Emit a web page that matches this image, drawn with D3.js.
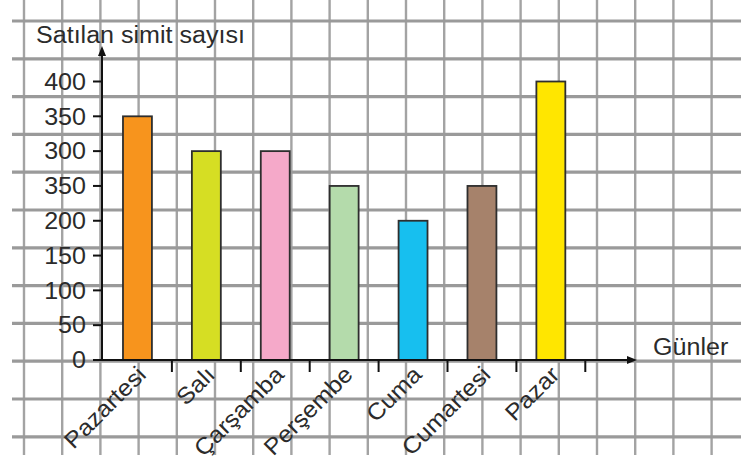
<!DOCTYPE html>
<html lang="tr">
<head>
<meta charset="utf-8">
<script src="https://cdn.jsdelivr.net/npm/d3@7/dist/d3.min.js"></script>
<style>
  html, body { margin: 0; padding: 0; background: #fff; }
  svg { display: block; }
  text { font-family: "Liberation Sans", Arial, Helvetica, sans-serif; fill: #2b2b2b; }
</style>
</head>
<body>
<svg id="chart" width="741" height="464"></svg>
<script>
// Günlere göre satılan simit sayısı
const days = ["Pazartesi", "Salı", "Çarşamba", "Perşembe", "Cuma", "Cumartesi", "Pazar"];
const sales = [350, 300, 300, 250, 200, 250, 400];
const barColors = ["#f7941d", "#d6de23", "#f5a9c9", "#b4dbab", "#17bfef", "#a6826b", "#ffe600"];
const yTickValues = [0, 50, 100, 150, 200, 250, 300, 350, 400];
const yTickLabels = ["0", "50", "100", "150", "200", "350", "300", "350", "400"];
const yTitle = "Satılan simit sayısı";
const xTitle = "Günler";

const W = 741, H = 464;
const svg = d3.select("#chart");

// squared paper background
const gridStepX = 38.2, gridStepY = 37.8;
const gx = d3.range(0, 19).map(i => 24 + i * gridStepX);
const gy = d3.range(0, 12).map(i => 21 + i * gridStepY);
const grid = svg.append("g");
grid.selectAll("line.v").data(gx).join("line")
  .attr("x1", d => d).attr("x2", d => d).attr("y1", 0).attr("y2", 455)
  .attr("stroke", "#a3a3a3").attr("stroke-width", 2.4);
grid.selectAll("line.h").data(gy).join("line")
  .attr("x1", 12).attr("x2", W).attr("y1", d => d).attr("y2", d => d)
  .attr("stroke", "#9a9a9a").attr("stroke-width", 3.2);

// scales
const x = d3.scaleBand().domain(days).range([103, 103 + 68.9 * 7])
  .paddingInner(0.58).paddingOuter(0.29);
const y = d3.scaleLinear().domain([0, 400]).range([360, 81.5]);
const axisX = 102;

// bars
svg.append("g").selectAll("rect").data(days).join("rect")
  .attr("x", d => x(d))
  .attr("width", x.bandwidth())
  .attr("y", (d, i) => y(sales[i]))
  .attr("height", (d, i) => y(0) - y(sales[i]))
  .attr("fill", (d, i) => barColors[i])
  .attr("stroke", "#2e2e2e").attr("stroke-width", 1.8);

const axes = svg.append("g").attr("stroke", "#111").attr("stroke-width", 2);

// y axis with arrow
axes.append("line").attr("x1", axisX).attr("x2", axisX).attr("y1", y(0)).attr("y2", 52);
svg.append("path").attr("d", `M${axisX},46 L${axisX - 4},56 L${axisX + 4},56 Z`).attr("fill", "#111");
axes.selectAll("line.yt").data(yTickValues).join("line")
  .attr("x1", axisX - 9).attr("x2", axisX).attr("y1", d => y(d)).attr("y2", d => y(d));

// x axis with arrow
const xEnd = 637;
axes.append("line").attr("x1", 95).attr("x2", xEnd - 6).attr("y1", y(0)).attr("y2", y(0));
svg.append("path").attr("d", `M${xEnd},${y(0)} L${xEnd - 10},${y(0) - 4} L${xEnd - 10},${y(0) + 4} Z`).attr("fill", "#111");
const step = x.step();
axes.selectAll("line.xt").data(days).join("line")
  .attr("x1", d => x(d) - x.paddingOuter() * step + step)
  .attr("x2", d => x(d) - x.paddingOuter() * step + step)
  .attr("y1", y(0)).attr("y2", y(0) + 12);

// text helpers: glyphs are slightly wide
const stretch = t => t.each(function () {
  const len = this.getComputedTextLength();
  d3.select(this).attr("textLength", len * 1.09).attr("lengthAdjust", "spacingAndGlyphs");
});

// y tick labels
svg.append("g").selectAll("text").data(yTickValues).join("text")
  .attr("x", 86).attr("y", d => y(d)).attr("dy", "0.36em")
  .attr("text-anchor", "end").attr("font-size", 23)
  .text((d, i) => yTickLabels[i]).call(stretch);

// day labels, rotated
svg.append("g").selectAll("text").data(days).join("text")
  .attr("text-anchor", "end").attr("font-size", 23)
  .attr("transform", d => `translate(${x(d) + x.bandwidth() / 2 + 10},${y(0) + 16}) rotate(-45)`)
  .text(d => d).call(stretch);

// axis titles
svg.append("text").attr("x", 36).attr("y", 43).attr("font-size", 23).text(yTitle).call(stretch);
svg.append("text").attr("x", 653).attr("y", 355).attr("font-size", 23).text(xTitle).call(stretch);
</script>
</body>
</html>
